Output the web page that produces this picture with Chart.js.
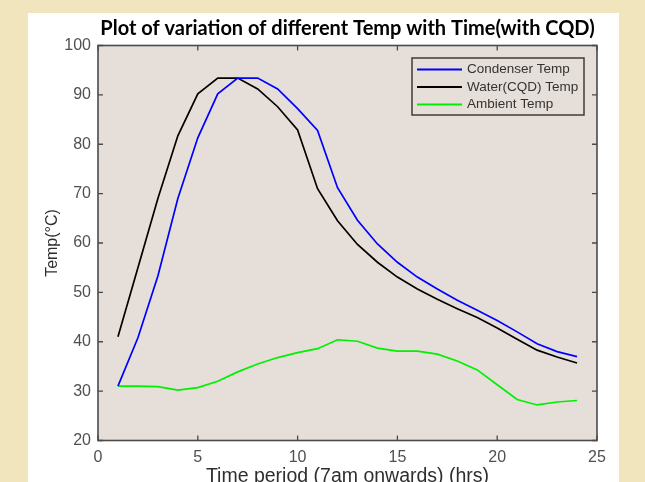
<!DOCTYPE html>
<html>
<head>
<meta charset="utf-8">
<script src="https://cdn.jsdelivr.net/npm/chart.js@4"></script>
<style>
  html, body { margin: 0; padding: 0; background: #f1e5bd; overflow: hidden; }
  #wrap { width: 645px; height: 500px; }
</style>
</head>
<body>
<div id="wrap"><canvas id="TempChart" width="645" height="500"></canvas></div>
<script>
// time axis (hours from 7am)
var hours = [1, 2, 3, 4, 5, 6, 7, 8, 9, 10, 11, 12, 13, 14, 15, 16, 17, 18, 19, 20, 21, 22, 23, 24];

// values
var condenserTemp = [31, 40.8, 53.3, 69, 81.3, 90.2, 93.4, 93.4, 91.2, 87.2, 82.8, 71.2,
  64.6, 59.8, 56.1, 53.1, 50.7, 48.4, 46.4, 44.3, 42, 39.6, 38, 37];
var waterTemp = [41, 55, 69, 81.7, 90.2, 93.4, 93.4, 91.2, 87.6, 82.9, 71, 64.5,
  59.7, 56.1, 53.1, 50.7, 48.6, 46.7, 44.9, 42.8, 40.5, 38.3, 36.9, 35.7];
var ambientTemp = [31, 31, 30.9, 30.2, 30.7, 32, 33.9, 35.5, 36.8, 37.8, 38.6, 40.4,
  40.1, 38.7, 38.1, 38.1, 37.5, 36.1, 34.3, 31.3, 28.3, 27.2, 27.8, 28.1];

var seriesNames = ['Condenser Temp', 'Water(CQD) Temp', 'Ambient Temp'];
var seriesColors = ['#0000ff', '#000000', '#00f000'];

var xTicks = [0, 5, 10, 15, 20, 25];
var yTicks = [20, 30, 40, 50, 60, 70, 80, 90, 100];

function toPoints(vals) {
  return hours.map(function (h, i) { return { x: h, y: vals[i] }; });
}

var data = {
  datasets: [condenserTemp, waterTemp, ambientTemp].map(function (vals, i) {
    return {
      label: seriesNames[i],
      data: toPoints(vals),
      borderColor: seriesColors[i],
      backgroundColor: seriesColors[i],
      borderWidth: 1.7,
      pointRadius: 0,
      tension: 0
    };
  })
};

// white figure + axes background
var figureBg = {
  id: 'figureBg',
  beforeDraw: function (chart) {
    var c = chart.ctx, a = chart.chartArea;
    c.save();
    c.fillStyle = '#ffffff';
    c.fillRect(28, 13, 591, chart.height - 13);
    c.fillStyle = '#e6ded8';
    c.fillRect(a.left, a.top, a.right - a.left, a.bottom - a.top);
    c.restore();
  }
};

// box around axes with inward ticks on all four sides (matlab look)
var axesBox = {
  id: 'axesBox',
  afterDatasetsDraw: function (chart) {
    var c = chart.ctx, a = chart.chartArea;
    var xs = chart.scales.x, ys = chart.scales.y;
    c.save();
    c.strokeStyle = '#4a4a4a';
    c.lineWidth = 1.3;
    xTicks.forEach(function (t) {
      var px = xs.getPixelForValue(t);
      c.beginPath();
      c.moveTo(px, a.bottom); c.lineTo(px, a.bottom - 5);
      c.moveTo(px, a.top); c.lineTo(px, a.top + 5);
      c.stroke();
    });
    yTicks.forEach(function (t) {
      var py = ys.getPixelForValue(t);
      c.beginPath();
      c.moveTo(a.left, py); c.lineTo(a.left + 5, py);
      c.moveTo(a.right, py); c.lineTo(a.right - 5, py);
      c.stroke();
    });
    c.lineWidth = 1.6;
    c.strokeRect(a.left, a.top, a.right - a.left, a.bottom - a.top);
    c.restore();
  }
};

// legend box in the top right corner of the axes
var boxLegend = {
  id: 'boxLegend',
  afterDraw: function (chart) {
    var c = chart.ctx;
    var x0 = 412, y0 = 58, w = 172, h = 57;
    c.save();
    c.fillStyle = '#e6ded8';
    c.fillRect(x0, y0, w, h);
    c.strokeStyle = '#3c3c3c';
    c.lineWidth = 1.5;
    c.strokeRect(x0, y0, w, h);
    c.font = '13.5px "Liberation Sans", Arial, sans-serif';
    c.textBaseline = 'middle';
    chart.data.datasets.forEach(function (ds, i) {
      var y = y0 + 11.5 + i * 17.5;
      c.strokeStyle = ds.borderColor;
      c.lineWidth = 1.8;
      c.beginPath();
      c.moveTo(x0 + 5, y); c.lineTo(x0 + 50, y);
      c.stroke();
      c.fillStyle = '#333333';
      c.fillText(ds.label, x0 + 55, y);
    });
    c.restore();
  }
};

var options = {
  responsive: false,
  animation: false,
  devicePixelRatio: 1,
  layout: { padding: { left: 0, right: 48, top: 0, bottom: 0 } },
  plugins: {
    legend: { display: false },
    tooltip: { enabled: false },
    title: {
      display: true,
      text: 'Plot of variation of different Temp with Time(with CQD)',
      fullSize: false,
      color: '#000000',
      font: { family: 'Lato, "Open Sans", sans-serif', size: 20, weight: 'bold' },
      padding: { top: 16.5, bottom: 5 }
    }
  },
  scales: {
    x: {
      type: 'linear',
      min: 0,
      max: 25,
      afterBuildTicks: function (s) { s.ticks = xTicks.map(function (v) { return { value: v }; }); },
      afterFit: function (s) { s.height = 59.5; },
      grid: { display: false, drawTicks: false },
      border: { display: false },
      ticks: {
        color: '#505050',
        padding: 7,
        font: { family: '"Liberation Sans", Arial, sans-serif', size: 16 }
      },
      title: {
        display: true,
        text: 'Time period (7am onwards) (hrs)',
        color: '#2e2e2e',
        font: { family: '"Liberation Sans", Arial, sans-serif', size: 19.5 },
        padding: { top: 0, bottom: 11.5 }
      }
    },
    y: {
      min: 20,
      max: 100,
      afterBuildTicks: function (s) { s.ticks = yTicks.map(function (v) { return { value: v }; }); },
      afterFit: function (s) { s.width = 98; },
      grid: { display: false, drawTicks: false },
      border: { display: false },
      ticks: {
        color: '#505050',
        padding: 7,
        font: { family: '"Liberation Sans", Arial, sans-serif', size: 16 }
      },
      title: {
        display: true,
        text: 'Temp(°C)',
        color: '#2e2e2e',
        font: { family: '"Liberation Sans", Arial, sans-serif', size: 16 },
        padding: { top: 43, bottom: 0 }
      }
    }
  }
};

var ctx = document.getElementById('TempChart');
var TempChart = new Chart(ctx, {
  type: 'line',
  data: data,
  options: options,
  plugins: [figureBg, axesBox, boxLegend]
});
</script>
</body>
</html>
